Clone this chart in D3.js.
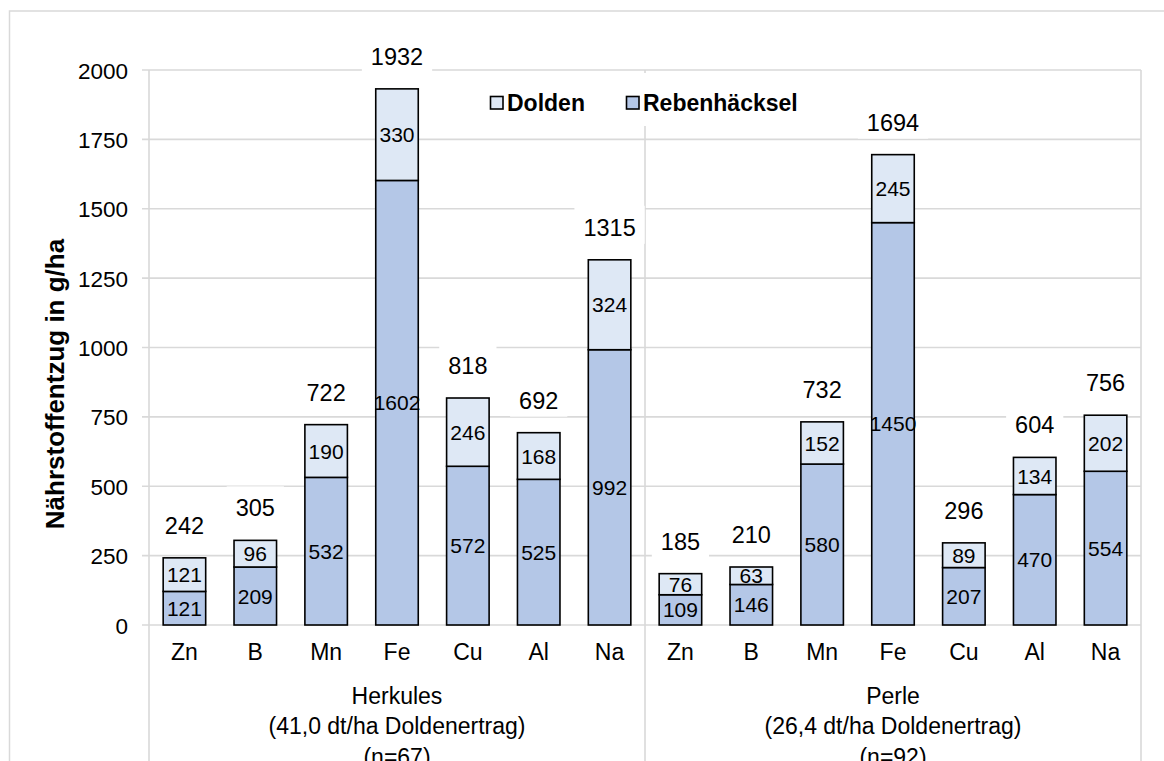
<!DOCTYPE html>
<html>
<head>
<meta charset="utf-8">
<script src="https://cdn.jsdelivr.net/npm/d3@7"></script>
<style>
html,body{margin:0;padding:0;background:#fff;}
svg{display:block;}
text{font-family:"Liberation Sans", Arial, sans-serif;fill:#000;}
</style>
</head>
<body>
<svg id="chart" width="1164" height="761"></svg>
<script>
const categories = ["Zn","B","Mn","Fe","Cu","Al","Na"];
const groups = ["Herkules","Perle"];
const groupLabels = [
  ["Herkules","(41,0 dt/ha Doldenertrag)","(n=67)"],
  ["Perle","(26,4 dt/ha Doldenertrag)","(n=92)"]
];
const seriesNames = ["Dolden","Rebenhäcksel"];
const rebenHerkules = [121,209,532,1602,572,525,992];
const doldenHerkules = [121,96,190,330,246,168,324];
const totalHerkules = [242,305,722,1932,818,692,1315];
const rebenPerle = [109,146,580,1450,207,470,554];
const doldenPerle = [76,63,152,245,89,134,202];
const totalPerle = [185,210,732,1694,296,604,756];
const yTicks = [0,250,500,750,1000,1250,1500,1750,2000];

const reben = [rebenHerkules, rebenPerle];
const dolden = [doldenHerkules, doldenPerle];
const totals = [totalHerkules, totalPerle];

const rows = [];
groups.forEach((g,gi)=>{
  categories.forEach((c,ci)=>{
    rows.push({key:g+"|"+c, group:g, gi, cat:c, reben:reben[gi][ci], dolden:dolden[gi][ci], total:totals[gi][ci]});
  });
});

const svg = d3.select("#chart");
const colReben = "#b4c7e7", colDolden = "#dee8f5", gridCol = "#d9d9d9";
const X0 = 149, X1 = 1141, Y0 = 625, Y1 = 70;

const x = d3.scaleBand().domain(rows.map(d=>d.key)).range([X0,X1]).paddingInner(0.4).paddingOuter(0.2);
const y = d3.scaleLinear().domain([0,2000]).range([Y0,Y1]);

// outer chart border
svg.append("rect").attr("x",9.5).attr("y",11).attr("width",1170).attr("height",800)
  .attr("fill","none").attr("stroke",gridCol).attr("stroke-width",1.5);

// gridlines
svg.append("g").selectAll("line").data(yTicks).join("line")
  .attr("x1",142).attr("x2",X1).attr("y1",d=>y(d)).attr("y2",d=>y(d))
  .attr("stroke",gridCol).attr("stroke-width",1.6);

// vertical axis / separators
const sepX = [X0, x(rows[7].key) - x.step()*x.paddingInner()/2, X1];
svg.append("g").selectAll("line").data(sepX).join("line")
  .attr("x1",d=>d).attr("x2",d=>d).attr("y1",Y1).attr("y2",761)
  .attr("stroke",gridCol).attr("stroke-width",1.6);

// y tick labels
const yAxis = d3.axisLeft(y).tickValues(yTicks).tickFormat(d3.format("d")).tickSize(0).tickPadding(0);
const ya = svg.append("g").attr("transform",`translate(128,0)`).call(yAxis);
ya.select(".domain").remove();
ya.selectAll("text").attr("font-size",22.5).attr("font-family","Liberation Sans, Arial, sans-serif").attr("fill","#000").attr("dy","0.36em");

// y title
svg.append("text").attr("transform","translate(64,384) rotate(-90)")
  .attr("text-anchor","middle").attr("font-size",26).attr("font-weight","bold")
  .text("Nährstoffentzug in g/ha");

// bars
const bw = x.bandwidth();
const bars = svg.append("g");
bars.selectAll("rect.reben").data(rows).join("rect").attr("class","reben")
  .attr("x",d=>x(d.key)).attr("width",bw)
  .attr("y",d=>y(d.reben)).attr("height",d=>y(0)-y(d.reben))
  .attr("fill",colReben).attr("stroke","#000").attr("stroke-width",1.6);
bars.selectAll("rect.dolden").data(rows).join("rect").attr("class","dolden")
  .attr("x",d=>x(d.key)).attr("width",bw)
  .attr("y",d=>y(d.reben+d.dolden)).attr("height",d=>y(d.reben)-y(d.reben+d.dolden))
  .attr("fill",colDolden).attr("stroke","#000").attr("stroke-width",1.6);

// segment labels
const lab = svg.append("g").attr("font-size",21).attr("text-anchor","middle");
lab.selectAll("text.r").data(rows).join("text").attr("class","r")
  .attr("x",d=>x(d.key)+bw/2).attr("y",d=>y(d.reben/2)).attr("dy","0.36em").text(d=>d.reben);
lab.selectAll("text.d").data(rows).join("text").attr("class","d")
  .attr("x",d=>x(d.key)+bw/2).attr("y",d=>y(d.reben+d.dolden/2)).attr("dy","0.36em").text(d=>d.dolden);

// total labels with white background
const tg = svg.append("g");
const tl = tg.selectAll("g").data(rows).join("g")
  .attr("transform",d=>`translate(${x(d.key)+bw/2},${y(d.reben+d.dolden)-24})`);
tl.append("rect");
tl.append("text").attr("text-anchor","middle").attr("font-size",23.5).text(d=>d.total);
tl.each(function(){
  const g = d3.select(this);
  const bb = g.select("text").node().getBBox();
  g.select("rect").attr("x",bb.x-9).attr("width",bb.width+18).attr("y",-30).attr("height",38).attr("fill","#fff");
});

// category labels
svg.append("g").selectAll("text").data(rows).join("text")
  .attr("x",d=>x(d.key)+bw/2).attr("y",660).attr("text-anchor","middle").attr("font-size",23)
  .text(d=>d.cat);

// group labels
groups.forEach((g,gi)=>{
  const cx = x(g+"|Fe")+bw/2;
  const t = svg.append("text").attr("text-anchor","middle").attr("font-size",23);
  groupLabels[gi].forEach((line,li)=>{
    t.append("tspan").attr("x",cx).attr("y",704+li*30.3).text(line);
  });
});

// legend
const lg = svg.append("g");
lg.append("rect").attr("x",482).attr("y",73).attr("width",320).attr("height",53).attr("fill","#fff");
const legItems = [{name:seriesNames[0],col:colDolden,x:490},{name:seriesNames[1],col:colReben,x:626}];
legItems.forEach(it=>{
  lg.append("rect").attr("x",it.x+0.5).attr("y",96.5).attr("width",12.5).attr("height",12.5)
    .attr("fill",it.col).attr("stroke","#000").attr("stroke-width",1.6);
  lg.append("text").attr("x",it.x+17).attr("y",111).attr("font-size",23).attr("font-weight","bold").text(it.name);
});
</script>
</body>
</html>
